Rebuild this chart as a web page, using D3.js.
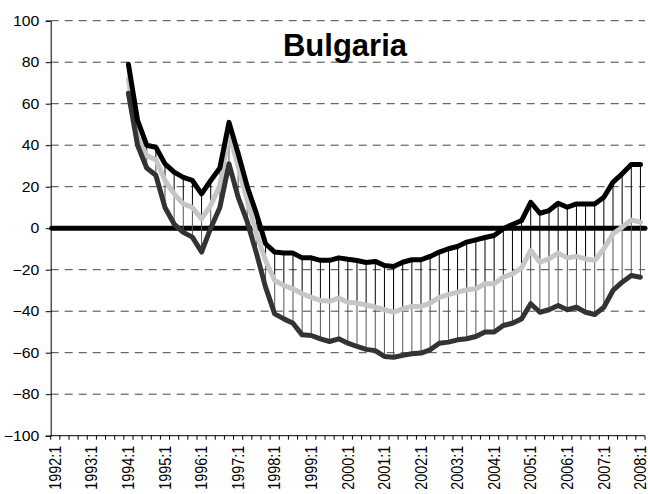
<!DOCTYPE html>
<html>
<head>
<meta charset="utf-8">
<script src="https://cdn.jsdelivr.net/npm/d3@7"></script>
<style>
  html, body { margin: 0; padding: 0; background: #fff; }
  svg { display: block; }
  text { font-family: "Liberation Sans", Arial, Helvetica, sans-serif; }
</style>
</head>
<body>
<svg id="chart" width="648" height="494"></svg>
<script>
// ---- data ----
const title = "Bulgaria";
const years = [1992,1993,1994,1995,1996,1997,1998,1999,2000,2001,2002,2003,2004,2005,2006,2007,2008];
const tickLabels = ["1992:1","1993:1","1994:1","1995:1","1996:1","1997:1","1998:1","1999:1","2000:1","2001:1","2002:1","2003:1","2004:1","2005:1","2006:1","2007:1","2008:1"];
const yTicks = [-100,-80,-60,-40,-20,0,20,40,60,80,100];
// quarters 1992:1 .. 2008:1 (65 categories)
const categories = [];
years.forEach(y => { [1,2,3,4].forEach(q => { if (y < 2008 || q === 1) categories.push(y + ":" + q); }); });

// series (first 8 quarters, 1992:1-1993:4, have no data)
const upper = [null,null,null,null,null,null,null,null,
  79,52,40,39,31,27,24.5,23,16.5,23,29,51,36,20,7,-7.5,
  -11.5,-12,-12,-14.3,-14.3,-15.5,-15.5,-14.3,-15,-15.6,-16.5,-16,
  -18,-18.5,-16.4,-15.2,-15.2,-13.6,-11.5,-9.9,-8.8,-6.7,-5.6,-4.5,
  -3.5,-0.3,1.8,3.7,12.5,7.2,8.5,12,10.1,11.7,11.7,11.7,14.9,22.2,26.2,30.7,30.7];
const middle = [null,null,null,null,null,null,null,null,
  72,44,35,33,23,16.6,11.7,10,4.5,11,20.6,45.5,30,13.3,-2.7,-15.6,
  -25.2,-27.6,-29.2,-31.6,-33.3,-34.8,-35.2,-33.7,-35.7,-36.1,-37,-38,
  -39.3,-40.5,-38.9,-37.7,-37.7,-36.1,-33.3,-32,-30.8,-29.7,-29.2,-26.8,
  -26.8,-23.6,-22,-19.1,-10.7,-16.4,-14.8,-12,-14.3,-13.6,-14.8,-15.6,-9.9,-2.7,0.5,4,2.9];
const lower = [null,null,null,null,null,null,null,null,
  65,40,29,25.5,10,2,-2,-4.3,-11.5,0,10,31,15,3,-12,-28.4,
  -41.3,-43.7,-45.8,-51.4,-51.7,-53.3,-54.6,-53.3,-55.4,-57,-58.4,-59,
  -61.8,-62.2,-61.3,-60.5,-60.2,-58.6,-55.4,-54.9,-53.8,-53.3,-52.2,-50,
  -50,-46.9,-45.8,-43.7,-36.4,-40.5,-39.3,-37.3,-39.3,-38.1,-40.5,-41.6,-38.1,-30,-26,-22.8,-23.6];

// ---- layout ----
const svg = d3.select("#chart");
const L = 50.7, R = 645, T = 20.7, B = 435.7;

const x = d3.scaleBand().domain(categories).range([L, R]).paddingInner(0).paddingOuter(0);
const cx = c => x(c) + x.bandwidth() / 2;
const y = d3.scaleLinear().domain([-100, 100]).range([B, T]);

// gridlines
svg.append("g").selectAll("line")
  .data(yTicks.filter(v => v !== 0 && v !== -100))
  .join("line")
  .attr("x1", L).attr("x2", R)
  .attr("y1", d => y(d)).attr("y2", d => y(d))
  .attr("stroke", "#444").attr("stroke-width", 1)
  .attr("stroke-dasharray", "8,6");

// y axis
const yAxis = svg.append("g")
  .attr("transform", `translate(${L},0)`)
  .call(d3.axisLeft(y).tickValues(yTicks).tickSize(5).tickPadding(6).tickFormat(d3.format("d")));
yAxis.select(".domain").attr("stroke", "#000");
yAxis.selectAll(".tick line").attr("stroke", "#000");
yAxis.selectAll("text")
  .attr("font-size", 14).attr("fill", "#000")
  .attr("x", -11.4 / 1.13)
  .attr("transform", "scale(1.13,1)");

// x axis: baseline and ticks between categories
svg.append("line").attr("x1", L).attr("x2", R).attr("y1", B).attr("y2", B).attr("stroke", "#000");
const bounds = categories.map(c => x(c)).concat([R]);
svg.append("g").selectAll("line").data(bounds).join("line")
  .attr("x1", d => d).attr("x2", d => d)
  .attr("y1", B).attr("y2", B + 4)
  .attr("stroke", "#000");

// x labels
svg.append("g").selectAll("text").data(tickLabels).join("text")
  .attr("transform", d => `translate(${cx(d)},${B + 10}) rotate(-90) scale(1,1.12)`)
  .attr("text-anchor", "end")
  .attr("dy", "0.35em")
  .attr("font-size", 14.4)
  .text(d => d);

// zero line
svg.append("line")
  .attr("x1", L + 1).attr("x2", R)
  .attr("y1", y(0)).attr("y2", y(0))
  .attr("stroke", "#000").attr("stroke-width", 5).attr("stroke-linecap", "round");

// high-low lines
const idx = categories.map((c, i) => i).filter(i => upper[i] !== null);
svg.append("g").selectAll("line").data(idx).join("line")
  .attr("x1", i => cx(categories[i])).attr("x2", i => cx(categories[i]))
  .attr("y1", i => y(upper[i])).attr("y2", i => y(middle[i]))
  .attr("stroke", "#000").attr("stroke-width", 1);
svg.append("g").selectAll("line").data(idx).join("line")
  .attr("x1", i => cx(categories[i])).attr("x2", i => cx(categories[i]))
  .attr("y1", i => y(middle[i])).attr("y2", i => y(lower[i]))
  .attr("stroke", "#555").attr("stroke-width", 1);

// series lines
const line = arr => d3.line()
  .defined(i => arr[i] !== null)
  .x(i => cx(categories[i]))
  .y(i => y(arr[i]))(categories.map((c, i) => i));

[[middle, "#c6c6c6"], [lower, "#333"], [upper, "#000"]].forEach(([arr, col]) => {
  svg.append("path")
    .attr("d", line(arr))
    .attr("fill", "none")
    .attr("stroke", col)
    .attr("stroke-width", 5)
    .attr("stroke-linejoin", "round")
    .attr("stroke-linecap", "round");
});

// title
svg.append("text")
  .attr("x", 345).attr("y", 56)
  .attr("text-anchor", "middle")
  .attr("font-size", 31)
  .attr("font-weight", "bold")
  .text(title);
</script>
</body>
</html>
